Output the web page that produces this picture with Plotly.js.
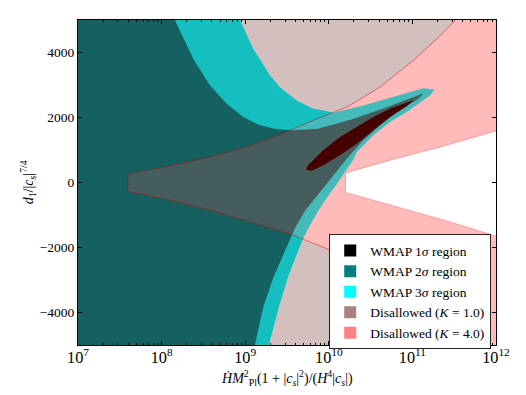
<!DOCTYPE html>
<html><head><meta charset="utf-8">
<script src="https://cdn.plot.ly/plotly-3.0.1.min.js"></script>
<style>html,body{margin:0;padding:0;background:#fff}#chart{width:526px;height:395px}</style>
</head><body><div id="chart"></div>
<script>
// All x values below are log10 of the abscissa; y values are d1/|cs|^(7/4).
// WMAP 3-sigma region: upper (outer) edge from top, then lower edge down to the bottom
const sig3UpperLogX = [8.919, 9.097, 9.297, 9.416, 9.496, 9.616, 9.695, 9.815, 9.895, 10.054, 10.413, 10.812, 11.130, 11.264];
const sig3UpperY    = [5100, 4110, 3291, 2933, 2779, 2525, 2423, 2270, 2239, 2147, 2371, 2678, 2902, 2862];
const sig3LowerLogX = [11.211, 10.932, 10.732, 10.532, 10.337, 10.289, 10.224, 10.164, 10.094, 10.014, 9.877, 9.763, 9.685, 9.590, 9.512, 9.404, 9.288, 9.243];
const sig3LowerY    = [2678, 2166, 1859, 1451, 939, 684, 429, 193, -52, -328, -850, -1371, -1770, -2383, -2905, -3825, -4991, -5390];
// WMAP 2-sigma region
const sig2UpperLogX = [8.076, 8.160, 8.379, 8.579, 8.779, 8.977, 9.177, 9.377, 9.575, 9.870, 10.270, 10.670, 10.970, 11.135];
const sig2UpperY    = [5450, 4994, 3804, 2985, 2423, 2012, 1758, 1635, 1604, 1656, 1937, 2295, 2600, 2745];
const sig2LowerLogX = [11.071, 10.871, 10.612, 10.393, 10.200, 10.086, 9.967, 9.877, 9.721, 9.602, 9.530, 9.428, 9.339, 9.217, 9.117, 9.075];
const sig2LowerY    = [2577, 2270, 1758, 1245, 684, 316, -52, -328, -850, -1371, -1770, -2383, -2905, -3825, -4991, -5390];
// WMAP 1-sigma region (closed outline)
const sig1LogX = [9.727, 9.751, 9.934, 10.134, 10.333, 10.532, 10.732, 10.932, 11.019, 10.932, 10.732, 10.532, 10.333, 10.134, 9.934, 9.799];
const sig1Y    = [393, 531, 991, 1399, 1706, 2012, 2270, 2472, 2540, 2350, 2012, 1604, 1196, 837, 531, 362];
// Allowed wedge boundary for K = 1.0
const k1UpperLogX = [7.594, 7.620, 8.100, 8.579, 9.057, 9.396, 9.815, 10.214, 10.612, 11.011, 11.291, 11.510, 11.535];
const k1UpperY    = [255, 278, 509, 785, 1122, 1451, 1911, 2319, 2933, 3759, 4417, 4979, 5100];
const k1LowerLogX = [7.594, 7.620, 8.100, 8.579, 9.057, 9.536, 10.014, 10.612, 11.011, 11.291, 11.530, 11.555];
const k1LowerY    = [-255, -283, -543, -850, -1209, -1586, -2076, -2933, -3759, -4417, -4991, -5100];
// Allowed wedge boundary for K = 4.0
const k4UpperLogX = [10.200, 10.732, 11.330, 12.000, 12.300];
const k4UpperY    = [294, 684, 1092, 1589, 1810];
const k4LowerLogX = [10.200, 10.732, 11.330, 12.000, 12.300];
const k4LowerY    = [-305, -700, -1120, -1647, -1870];
// Frame of the drawing area beyond the axes (for closing polygons)
const leftLogX = 6.5, rightLogX = 12.3, topY = 5100, bottomY = -5100;

const seriesNames = ['WMAP 1<i>σ</i> region', 'WMAP 2<i>σ</i> region', 'WMAP 3<i>σ</i> region',
                     'Disallowed (<i>K</i> = 1.0)', 'Disallowed (<i>K</i> = 4.0)'];
const legendColors = ['#000000', '#008080', '#00ffff', '#aa8080', '#ff8080'];
const xTitle = '<i>Ḣ</i><i>M</i><sup>2</sup><sub>Pl</sub>(1 + |<i>c<sub>s</sub></i>|<sup>2</sup>)/(<i>H</i><sup>4</sup>|<i>c<sub>s</sub></i>|)';
const yTitle = '<i>d</i><sub>1</sub>/|<i>c<sub>s</sub></i>|<sup>7/4</sup>';

const P = v => Math.pow(10, v);
const rev = a => a.slice().reverse();

function poly(lx, y, fillcolor, line) {
  return {type: 'scatter', mode: 'lines', x: lx.map(P), y: y, fill: 'toself',
          fillcolor: fillcolor, line: line || {width: 0}, hoverinfo: 'skip', showlegend: false};
}

const traces = [];
traces.push(poly([leftLogX].concat(sig3UpperLogX, sig3LowerLogX, [leftLogX]),
                 [sig3UpperY[0]].concat(sig3UpperY, sig3LowerY, [sig3LowerY[sig3LowerY.length-1]]), '#00ffff'));
traces.push(poly([leftLogX].concat(sig2UpperLogX, sig2LowerLogX, [leftLogX]),
                 [sig2UpperY[0]].concat(sig2UpperY, sig2LowerY, [sig2LowerY[sig2LowerY.length-1]]), '#008080'));
traces.push(poly(sig1LogX, sig1Y, '#000000'));
traces.push(poly([leftLogX].concat(rev(k1UpperLogX), k1LowerLogX, [leftLogX]),
                 [topY].concat(rev(k1UpperY), k1LowerY, [bottomY]),
                 'rgba(85,0,0,0.25)', {width: 1, color: 'rgba(85,0,0,0.25)'}));
traces.push(poly(rev(k1UpperLogX).concat(k1LowerLogX, [rightLogX], rev(k4LowerLogX), k4UpperLogX, [rightLogX]),
                 rev(k1UpperY).concat(k1LowerY, [bottomY], rev(k4LowerY), k4UpperY, [topY]),
                 'rgba(255,0,0,0.27)', {width: 1, color: 'rgba(255,0,0,0.27)'}));
seriesNames.forEach((n, i) => traces.push({type: 'scatter', mode: 'markers', x: [null], y: [null], name: n,
  marker: {symbol: 'square', size: 12, color: legendColors[i]}, hoverinfo: 'skip', showlegend: true}));

const serif = "'Liberation Serif', 'Times New Roman', serif";
const layout = {
  width: 526, height: 395,
  margin: {l: 78, r: 30, t: 20, b: 50},
  paper_bgcolor: '#ffffff', plot_bgcolor: '#ffffff',
  font: {family: serif, size: 13, color: '#000'},
  showlegend: true,
  xaxis: {type: 'log', range: [7, 12], dtick: 1, exponentformat: 'power',
          showline: true, mirror: 'ticks', linecolor: '#000', linewidth: 1,
          ticks: 'inside', ticklen: 4, tickcolor: '#000', showgrid: false, zeroline: false,
          minor: {ticks: 'inside', ticklen: 2, tickcolor: '#000', showgrid: false},
          ticklabelstandoff: -2,
          tickfont: {family: serif, size: 13}},
  yaxis: {range: [-5000, 5000], tickvals: [-4000, -2000, 0, 2000, 4000],
          showline: true, mirror: 'ticks', linecolor: '#000', linewidth: 1,
          ticks: 'inside', ticklen: 4, tickcolor: '#000', showgrid: false, zeroline: false,
          tickfont: {family: serif, size: 13.5}},
  annotations: [
    {text: xTitle, xref: 'paper', yref: 'paper', x: 0.5, y: -0.103, xanchor: 'center', yanchor: 'middle',
     showarrow: false, font: {family: serif, size: 14}},
    {text: yTitle, xref: 'paper', yref: 'paper', x: -0.12, y: 0.5, xanchor: 'center', yanchor: 'middle',
     textangle: -90, showarrow: false, font: {family: serif, size: 14}}
  ],
  legend: {x: 0.601, y: 0.3406, xanchor: 'left', yanchor: 'top', bgcolor: '#ffffff',
           bordercolor: '#222', borderwidth: 1, font: {family: serif, size: 13.5},
           itemwidth: 30, tracegroupgap: 0}
};
Plotly.newPlot('chart', traces, layout, {staticPlot: true, displayModeBar: false});
</script></body></html>
